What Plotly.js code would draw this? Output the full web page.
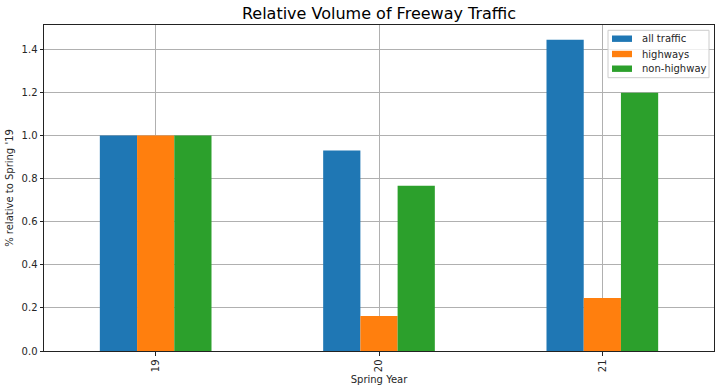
<!DOCTYPE html>
<html>
<head>
<meta charset="utf-8">
<script src="https://cdn.plot.ly/plotly-3.0.1.min.js"></script>
<style>html,body{margin:0;padding:0;background:#fff;}#chart{width:720px;height:392px;}</style>
</head>
<body>
<div id="chart"></div>
<script>
const categories = ["19", "20", "21"];
const allTraffic = [1.0, 0.93, 1.445];
const highways = [1.0, 0.163, 0.246];
const nonHighway = [1.0, 0.767, 1.198];
const seriesNames = ["all traffic", "highways", "non-highway"];
const yTicks = [0, 0.2, 0.4, 0.6, 0.8, 1.0, 1.2, 1.4];

const colors = ["#1f77b4", "#ff7f0e", "#2ca02c"];
const font = "DejaVu Sans, sans-serif";
const txt = "#262626";

const traces = [allTraffic, highways, nonHighway].map((v, i) => ({
  type: "bar", x: categories, y: v, name: seriesNames[i],
  marker: {color: colors[i], line: {width: 0}}, hoverinfo: "none", showlegend: false
}));

// plot-area geometry in pixels (for the hand-built matplotlib-style legend)
const PL = 44, PR = 714, PT = 25, PB = 351;
const px = x => (x - PL) / (PR - PL);
const py = y => (PB - y) / (PB - PT);

const shapes = [{
  type: "rect", xref: "paper", yref: "paper",
  x0: px(608), x1: px(709), y0: py(77.7), y1: py(30.3),
  fillcolor: "rgba(255,255,255,0.8)", line: {color: "#cccccc", width: 1}, layer: "above"
}];
const annotations = [];
const rowY = [38.7, 54, 68.7];
seriesNames.forEach((n, i) => {
  shapes.push({
    type: "rect", xref: "paper", yref: "paper",
    x0: px(612), x1: px(632), y0: py(rowY[i] + 3.2), y1: py(rowY[i] - 3.2),
    fillcolor: colors[i], line: {width: 0}, layer: "above"
  });
  annotations.push({
    xref: "paper", yref: "paper", x: px(640), y: py(rowY[i]),
    xanchor: "left", yanchor: "middle", showarrow: false, text: n,
    font: {family: font, size: 10, color: txt}
  });
});

const layout = {
  width: 720, height: 392,
  margin: {l: PL, r: 720 - PR, t: PT, b: 392 - PB, pad: 0},
  paper_bgcolor: "#fff", plot_bgcolor: "#fff",
  barmode: "group", bargap: 0.5, bargroupgap: 0,
  font: {family: font, size: 10, color: txt},
  title: {text: "Relative Volume of Freeway Traffic", font: {family: font, size: 16, color: "#000"},
          xref: "paper", x: 0.5, xanchor: "center", y: 0.965, yanchor: "middle"},
  xaxis: {
    type: "category", range: [-0.5, 2.5], tickangle: -90,
    showgrid: true, gridcolor: "#b0b0b0", gridwidth: 1,
    showline: true, linecolor: "#222", linewidth: 1, mirror: true,
    ticks: "outside", ticklen: 3.5, tickcolor: "#222",
    tickfont: {family: font, size: 10, color: txt},
    title: {text: "Spring Year", font: {family: font, size: 10, color: txt}, standoff: 4}
  },
  yaxis: {
    range: [0, 1.513], tickvals: yTicks, tickformat: ".1f",
    showgrid: true, gridcolor: "#b0b0b0", gridwidth: 1, zeroline: false,
    showline: true, linecolor: "#222", linewidth: 1, mirror: true,
    ticks: "outside", ticklen: 3.5, tickcolor: "#222",
    tickfont: {family: font, size: 10, color: txt},
    title: {text: "% relative to Spring '19", font: {family: font, size: 10, color: txt}, standoff: 6}
  },
  shapes: shapes,
  annotations: annotations,
  showlegend: false
};

Plotly.newPlot("chart", traces, layout, {staticPlot: true, displayModeBar: false});
</script>
</body>
</html>
